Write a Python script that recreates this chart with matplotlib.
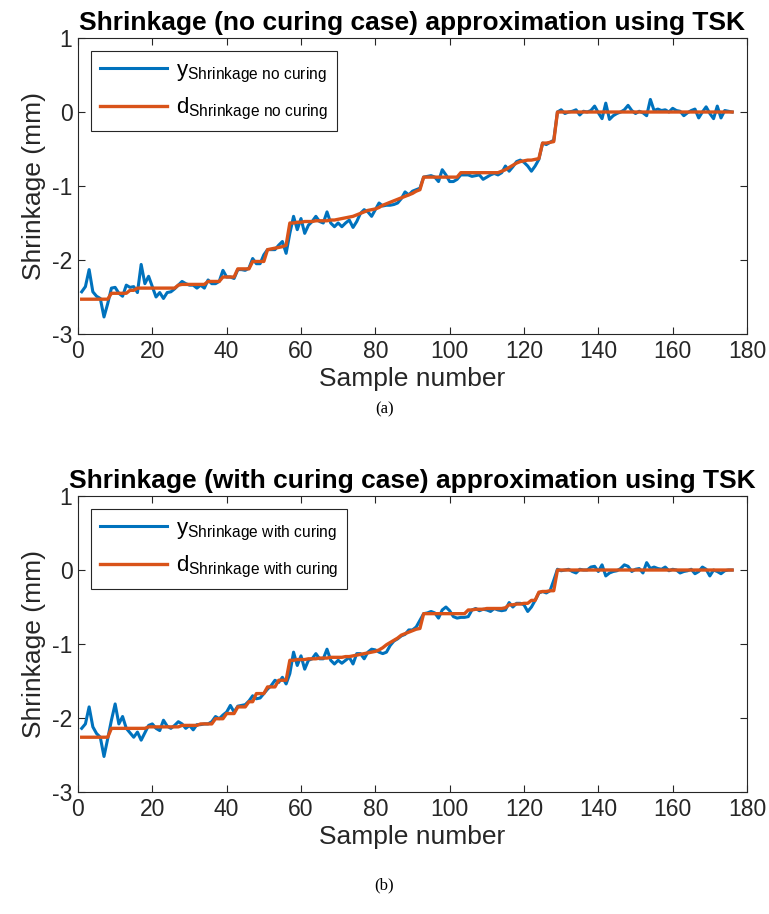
import matplotlib

matplotlib.use("Agg")
import matplotlib.pyplot as plt  # noqa: E402

plt.rcParams["font.family"] = ["Liberation Sans", "DejaVu Sans"]
plt.rcParams["mathtext.fontset"] = "custom"
plt.rcParams["mathtext.rm"] = "Liberation Sans"
plt.rcParams["mathtext.it"] = "Liberation Sans"
plt.rcParams["axes.unicode_minus"] = False

# sample index 1..176
samples = list(range(1, 177))

# (a) no curing: measured output y and TSK target d
y_no_curing = [
    -2.43, -2.36, -2.13, -2.43, -2.49, -2.52, -2.77, -2.59, -2.38, -2.37,
    -2.45, -2.49, -2.34, -2.37, -2.36, -2.44, -2.06, -2.32, -2.22, -2.36,
    -2.50, -2.44, -2.52, -2.44, -2.43, -2.39, -2.34, -2.29, -2.32, -2.34,
    -2.34, -2.38, -2.34, -2.38, -2.27, -2.32, -2.32, -2.29, -2.14, -2.23,
    -2.23, -2.25, -2.13, -2.13, -2.14, -2.11, -1.98, -2.05, -2.05, -1.93,
    -1.86, -1.86, -1.86, -1.80, -1.75, -1.91, -1.64, -1.41, -1.59, -1.44,
    -1.64, -1.53, -1.48, -1.41, -1.48, -1.50, -1.35, -1.50, -1.55, -1.50,
    -1.55, -1.50, -1.46, -1.56, -1.48, -1.37, -1.32, -1.35, -1.41, -1.32,
    -1.23, -1.27, -1.26, -1.26, -1.25, -1.23, -1.17, -1.08, -1.12, -1.07,
    -1.05, -1.03, -0.88, -0.87, -0.86, -0.88, -0.94, -0.78, -0.85, -0.94,
    -0.94, -0.91, -0.85, -0.85, -0.85, -0.87, -0.86, -0.85, -0.91, -0.88,
    -0.85, -0.83, -0.85, -0.82, -0.73, -0.80, -0.74, -0.67, -0.65, -0.68,
    -0.73, -0.80, -0.73, -0.64, -0.42, -0.44, -0.41, -0.38, 0.00, 0.03,
    -0.02, 0.00, 0.01, 0.03, -0.04, 0.01, 0.00, 0.02, 0.08, -0.01,
    -0.09, 0.12, -0.10, -0.05, -0.02, 0.00, 0.03, 0.09, 0.02, -0.02,
    0.01, -0.01, -0.05, 0.17, 0.02, 0.04, 0.02, 0.03, 0.00, 0.05,
    0.02, 0.01, -0.05, -0.01, 0.02, 0.04, -0.08, 0.00, 0.07, -0.02,
    -0.09, 0.08, -0.08, 0.02, 0.01, 0.00,
]
d_no_curing = [
    -2.53, -2.53, -2.53, -2.53, -2.53, -2.53, -2.53, -2.53, -2.45, -2.45,
    -2.45, -2.45, -2.45, -2.41, -2.41, -2.38, -2.38, -2.38, -2.38, -2.38,
    -2.38, -2.38, -2.38, -2.38, -2.38, -2.38, -2.34, -2.33, -2.33, -2.33,
    -2.33, -2.33, -2.33, -2.33, -2.29, -2.29, -2.29, -2.29, -2.23, -2.23,
    -2.23, -2.23, -2.12, -2.12, -2.12, -2.12, -2.02, -2.02, -2.02, -2.02,
    -1.86, -1.85, -1.84, -1.83, -1.82, -1.80, -1.50, -1.50, -1.49, -1.49,
    -1.48, -1.48, -1.48, -1.47, -1.47, -1.47, -1.47, -1.46, -1.46, -1.45,
    -1.44, -1.43, -1.42, -1.41, -1.39, -1.37, -1.35, -1.33, -1.32, -1.31,
    -1.29, -1.26, -1.24, -1.22, -1.20, -1.18, -1.16, -1.14, -1.12, -1.10,
    -1.07, -1.05, -0.88, -0.88, -0.88, -0.88, -0.88, -0.88, -0.88, -0.88,
    -0.88, -0.88, -0.82, -0.82, -0.82, -0.82, -0.82, -0.82, -0.82, -0.82,
    -0.82, -0.82, -0.82, -0.80, -0.78, -0.75, -0.72, -0.69, -0.67, -0.66,
    -0.65, -0.65, -0.64, -0.63, -0.42, -0.42, -0.41, -0.40, 0.00, 0.00,
    0.00, 0.00, 0.00, 0.00, 0.00, 0.00, 0.00, 0.00, 0.00, 0.00,
    0.00, 0.00, 0.00, 0.00, 0.00, 0.00, 0.00, 0.00, 0.00, 0.00,
    0.00, 0.00, 0.00, 0.00, 0.00, 0.00, 0.00, 0.00, 0.00, 0.00,
    0.00, 0.00, 0.00, 0.00, 0.00, 0.00, 0.00, 0.00, 0.00, 0.00,
    0.00, 0.00, 0.00, 0.00, 0.00, 0.00,
]

# (b) with curing
y_with_curing = [
    -2.14, -2.08, -1.85, -2.12, -2.21, -2.26, -2.52, -2.28, -2.03, -1.81,
    -2.08, -1.98, -2.14, -2.20, -2.26, -2.19, -2.30, -2.20, -2.10, -2.08,
    -2.14, -2.17, -2.03, -2.11, -2.14, -2.10, -2.05, -2.08, -2.14, -2.10,
    -2.16, -2.09, -2.09, -2.08, -2.08, -2.05, -1.98, -2.01, -1.96, -1.92,
    -1.83, -1.92, -1.84, -1.83, -1.82, -1.77, -1.70, -1.74, -1.73, -1.67,
    -1.61, -1.56, -1.49, -1.52, -1.45, -1.54, -1.40, -1.11, -1.29, -1.16,
    -1.34, -1.22, -1.20, -1.13, -1.20, -1.20, -1.07, -1.22, -1.27, -1.22,
    -1.26, -1.22, -1.18, -1.27, -1.13, -1.13, -1.20, -1.11, -1.07, -1.08,
    -1.11, -1.13, -1.11, -1.02, -0.96, -0.93, -0.89, -0.87, -0.81, -0.81,
    -0.77, -0.68, -0.59, -0.58, -0.56, -0.58, -0.65, -0.54, -0.50, -0.55,
    -0.63, -0.65, -0.64, -0.64, -0.63, -0.54, -0.52, -0.55, -0.53, -0.54,
    -0.56, -0.52, -0.54, -0.55, -0.54, -0.44, -0.50, -0.45, -0.45, -0.47,
    -0.56, -0.50, -0.41, -0.31, -0.29, -0.31, -0.28, -0.14, 0.01, -0.01,
    0.00, 0.01, -0.02, -0.04, 0.01, 0.00, 0.00, 0.04, 0.05, -0.02,
    0.07, -0.08, -0.04, -0.02, -0.01, 0.02, 0.07, 0.05, -0.02, 0.01,
    0.02, -0.04, 0.10, 0.02, 0.04, 0.02, 0.01, 0.04, -0.01, 0.01,
    0.00, -0.04, -0.02, -0.01, 0.01, -0.05, -0.02, 0.04, 0.01, -0.08,
    0.00, -0.02, -0.05, -0.01, 0.00, 0.00,
]
d_with_curing = [
    -2.26, -2.26, -2.26, -2.26, -2.26, -2.26, -2.26, -2.26, -2.14, -2.14,
    -2.14, -2.14, -2.14, -2.14, -2.14, -2.14, -2.14, -2.14, -2.12, -2.12,
    -2.12, -2.12, -2.12, -2.12, -2.12, -2.12, -2.12, -2.10, -2.10, -2.10,
    -2.10, -2.10, -2.08, -2.08, -2.08, -2.08, -2.01, -2.01, -2.01, -1.94,
    -1.94, -1.94, -1.85, -1.85, -1.85, -1.78, -1.78, -1.67, -1.67, -1.67,
    -1.58, -1.58, -1.58, -1.49, -1.49, -1.49, -1.22, -1.22, -1.21, -1.21,
    -1.21, -1.20, -1.20, -1.20, -1.19, -1.19, -1.19, -1.18, -1.18, -1.18,
    -1.18, -1.17, -1.17, -1.16, -1.15, -1.14, -1.13, -1.12, -1.11, -1.10,
    -1.08, -1.05, -1.01, -0.98, -0.95, -0.92, -0.88, -0.86, -0.84, -0.82,
    -0.80, -0.79, -0.59, -0.59, -0.59, -0.59, -0.59, -0.59, -0.59, -0.59,
    -0.59, -0.59, -0.59, -0.59, -0.54, -0.54, -0.53, -0.53, -0.53, -0.52,
    -0.52, -0.52, -0.52, -0.52, -0.51, -0.47, -0.47, -0.46, -0.46, -0.45,
    -0.45, -0.41, -0.41, -0.30, -0.29, -0.29, -0.28, -0.28, 0.00, 0.00,
    0.00, 0.00, 0.00, 0.00, 0.00, 0.00, 0.00, 0.00, 0.00, 0.00,
    0.00, 0.00, 0.00, 0.00, 0.00, 0.00, 0.00, 0.00, 0.00, 0.00,
    0.00, 0.00, 0.00, 0.00, 0.00, 0.00, 0.00, 0.00, 0.00, 0.00,
    0.00, 0.00, 0.00, 0.00, 0.00, 0.00, 0.00, 0.00, 0.00, 0.00,
    0.00, 0.00, 0.00, 0.00, 0.00, 0.00,
]

x_ticks = [0, 20, 40, 60, 80, 100, 120, 140, 160, 180]
y_ticks = [-3, -2, -1, 0, 1]

C_Y = "#0072BD"
C_D = "#D95319"
INK = "#262626"

PANELS = [
    ("Shrinkage (no curing case) approximation using TSK",
     y_no_curing, d_no_curing, "no\\ curing", "(a)", 0.082),
    ("Shrinkage (with curing case) approximation using TSK",
     y_with_curing, d_with_curing, "with\\ curing", "(b)", 0.102),
]


def _style(ax):
    ax.set_xlim(0, 180)
    ax.set_ylim(-3, 1)
    ax.set_xticks(x_ticks)
    ax.set_yticks(y_ticks)
    ax.tick_params(direction="in", top=True, right=True, length=5,
                   width=0.8, colors=INK, labelsize=16.5, pad=4)
    for side in ax.spines.values():
        side.set_color(INK)
        side.set_linewidth(0.8)


fig = plt.figure(figsize=(7.69, 9.14), dpi=100)
axes = [fig.add_axes([0.1014, 0.6346, 0.8700, 0.3238]),
        fig.add_axes([0.1014, 0.1335, 0.8700, 0.3238])]

for ax, (title, yv, dv, tag, cap, gap) in zip(axes, PANELS):
    ax.plot(samples, yv, color=C_Y, linewidth=2.2,
            label=r"$\mathrm{y}_{\mathrm{Shrinkage\ " + tag + "}}$")
    ax.plot(samples, dv, color=C_D, linewidth=2.4,
            label=r"$\mathrm{d}_{\mathrm{Shrinkage\ " + tag + "}}$")
    _style(ax)
    ax.set_title(title, fontsize=19, fontweight="bold", color="black",
                 pad=6)
    ax.set_xlabel("Sample number", fontsize=19, color=INK, labelpad=3)
    ax.set_ylabel("Shrinkage (mm)", fontsize=19, color=INK, labelpad=4)
    leg = ax.legend(loc="upper left", fontsize=16, handlelength=3.0,
                    fancybox=False, edgecolor=INK, framealpha=1,
                    borderaxespad=0.6, labelspacing=0.5,
                    borderpad=0.4, handletextpad=0.4)
    leg.get_frame().set_linewidth(0.8)
    bb = ax.get_position()
    fig.text(0.5, bb.y0 - gap, cap, ha="center", va="center",
             fontsize=12, family=["Liberation Serif", "DejaVu Serif"])

fig.savefig("out.png", dpi=100)
